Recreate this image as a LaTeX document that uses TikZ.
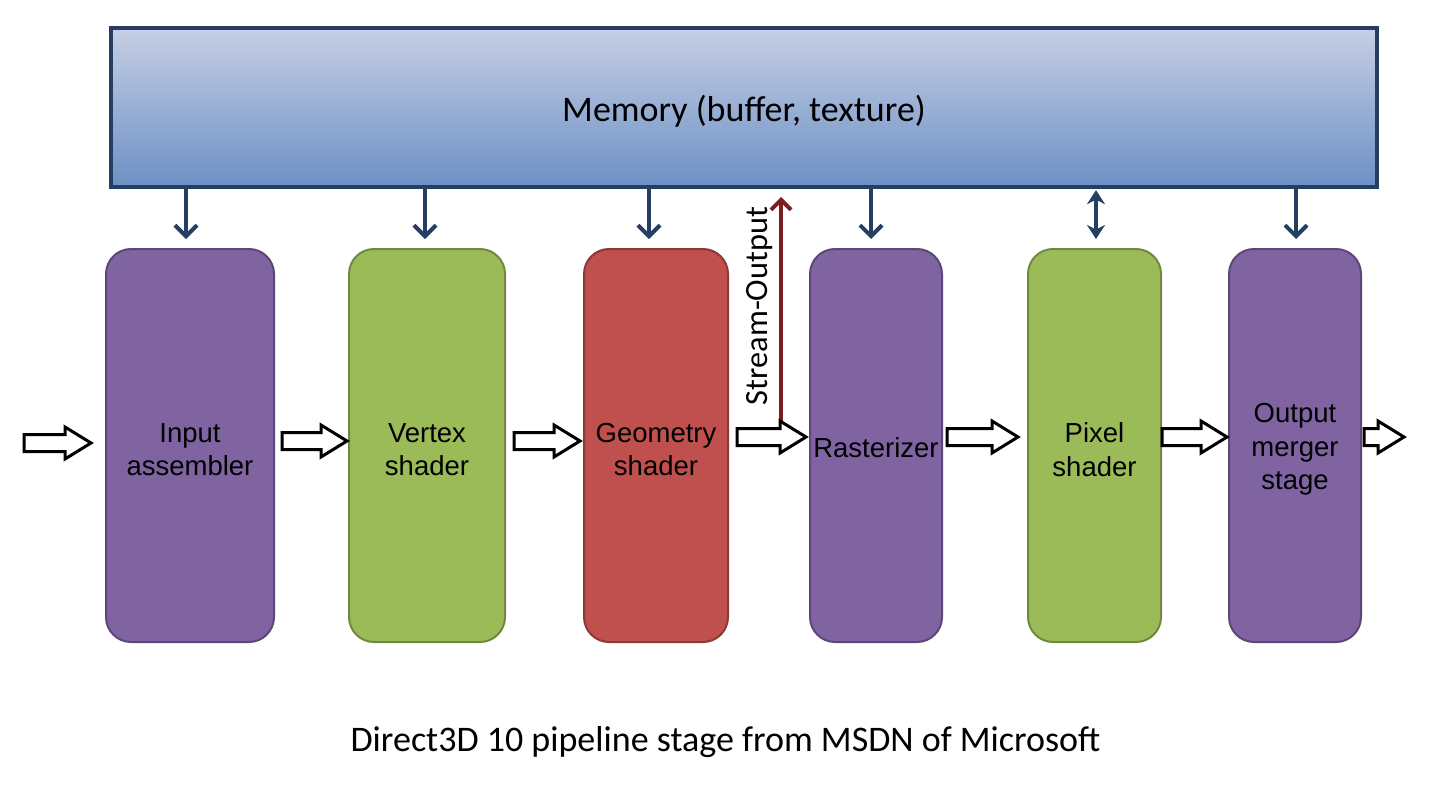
\documentclass[tikz,border=0pt]{standalone}
\usepackage{fontspec}
\setmainfont{Carlito}
\newfontfamily\arialf{Liberation Sans}
\usetikzlibrary{arrows.meta,calc}
\definecolor{memtop}{RGB}{198,207,229}
\definecolor{membot}{RGB}{108,144,196}
\definecolor{navy}{RGB}{36,63,98}
\definecolor{purp}{RGB}{128,100,162}
\definecolor{purpd}{RGB}{92,71,118}
\definecolor{grn}{RGB}{155,187,89}
\definecolor{grnd}{RGB}{113,137,63}
\definecolor{redf}{RGB}{192,80,77}
\definecolor{redd}{RGB}{140,56,54}
\definecolor{soc}{RGB}{122,30,32}
\tikzset{
  stage/.style={draw, line width=1pt, rounded corners=12.5pt, inner sep=0pt,
    minimum height=196.5pt},
  lab/.style={inner sep=0pt, align=center,
    font=\arialf\fontsize{13.75}{16.8}\selectfont},
  memdown/.style={draw=navy, line width=2pt, -{Straight Barb[length=5.5pt,width=11pt,line width=2pt]}},
  membi/.style={draw=navy, line width=2pt, {Stealth[length=7pt,width=9pt]}-{Stealth[length=7pt,width=9pt]}},
  harrow/.style={draw=black, line width=1.5pt, fill=white, line join=miter},
}
\newcommand\blockarr[3]{%
  \draw[harrow] (#1,#3-8.5) -- (#2-26,#3-8.5) -- (#2-26,#3-16) -- (#2,#3)
    -- (#2-26,#3+16) -- (#2-26,#3+8.5) -- (#1,#3+8.5) -- cycle;}
\begin{document}
\begin{tikzpicture}[x=0.5pt,y=-0.5pt]
\useasboundingbox[fill=white] (0,0) rectangle (1431,788);
% memory
\node[draw=navy, line width=2pt, top color=memtop, bottom color=membot,
  minimum width=633pt, minimum height=79.5pt, inner sep=0pt] (mem) at (744,107.5) {};
\node[inner sep=0pt, font=\fontsize{18}{21}\selectfont] (meml) at ([yshift=-2pt]mem.center) {Memory (buffer, texture)};
% stages
\node[stage, fill=purp, draw=purpd, minimum width=84pt] (ia) at (190,445.5) {};
\node[stage, fill=grn, draw=grnd, minimum width=78pt] (vs) at (427,445.5) {};
\node[stage, fill=redf, draw=redd, minimum width=72pt] (gs) at (656,445.5) {};
\node[stage, fill=purp, draw=purpd, minimum width=66pt] (ra) at (876,445.5) {};
\node[stage, fill=grn, draw=grnd, minimum width=66.5pt] (ps) at (1094.5,445.5) {};
\node[stage, fill=purp, draw=purpd, minimum width=66pt] (om) at (1295,445.5) {};
\node[lab] (ial) at ([yshift=-2pt]ia.center) {Input\\assembler};
\node[lab] (vsl) at ([yshift=-2pt]vs.center) {Vertex\\shader};
\node[lab] (gsl) at ([yshift=-2pt]gs.center) {Geometry\\shader};
\node[lab] (ral) at ([yshift=-1pt]ra.center) {Rasterizer};
\node[lab] (psl) at ([yshift=-2pt]ps.center) {Pixel\\shader};
\node[lab] (oml) at ([yshift=-2pt]om.center) {Output\\merger\\stage};
% memory arrows
\path (186,0) coordinate (x1) (425,0) coordinate (x2) (649,0) coordinate (x3)
      (871,0) coordinate (x4) (1096,0) coordinate (x5) (1296,0) coordinate (x6);
\draw[memdown] (x1 |- mem.south) -- ([yshift=4.5pt]x1 |- ia.north);
\draw[memdown] (x2 |- mem.south) -- ([yshift=4.5pt]x2 |- vs.north);
\draw[memdown] (x3 |- mem.south) -- ([yshift=4.5pt]x3 |- gs.north);
\draw[memdown] (x4 |- mem.south) -- ([yshift=4.5pt]x4 |- ra.north);
\draw[membi] ([yshift=-0.6pt]x5 |- mem.south) -- ([yshift=4.5pt]x5 |- ps.north);
\draw[memdown] (x6 |- mem.south) -- ([yshift=4.5pt]x6 |- om.north);
% stream output
\coordinate (so1) at (781,422);
\coordinate (so2) at (781,197);
\draw[soc, line width=2pt, -{Straight Barb[length=5pt,width=10pt,line width=2pt]}] (so1) -- (so2);
\node[rotate=90, font=\fontsize{16.2}{19}\selectfont, inner sep=0pt] (sol) at (760,306) {Stream-Output};
% block arrows
\blockarr{24}{91}{443}
\blockarr{282}{347}{441}
\blockarr{514}{580}{441}
\blockarr{737}{806}{437}
\blockarr{947}{1018}{437}
\blockarr{1162}{1227}{437}
\blockarr{1364}{1404}{437}
% caption
\node[font=\fontsize{18}{21}\selectfont] (cap) at (725.5,742) {Direct3D 10 pipeline stage from MSDN of Microsoft};
\end{tikzpicture}
\end{document}
